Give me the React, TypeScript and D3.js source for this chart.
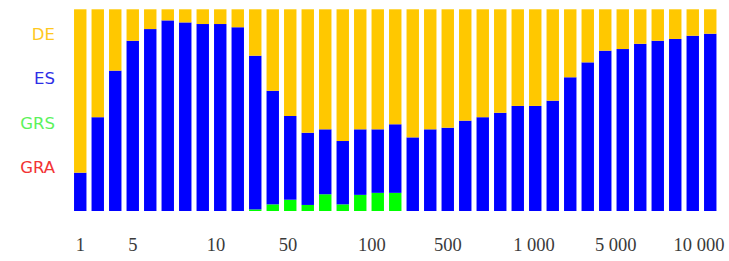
import React from "react";
import * as d3 from "d3";

const categories: string[] = [
  "b01","b02","b03","b04","b05","b06","b07","b08","b09","b10",
  "b11","b12","b13","b14","b15","b16","b17","b18","b19","b20",
  "b21","b22","b23","b24","b25","b26","b27","b28","b29","b30",
  "b31","b32","b33","b34","b35","b36","b37",
];

const GRA: number[] = [
  0,0,0,0,0,0,0,0,0,0, 0,0,0,0,0,0,0,0,0,0,
  0,0,0,0,0,0,0,0,0,0, 0,0,0,0,0,0,0,
];
const GRS: number[] = [
  0,0,0,0,0,0,0,0,0,0, 0.8,3.3,5.6,3.0,8.3,3.3,8.0,9.0,9.0,0,
  0,0,0,0,0,0,0,0,0,0, 0,0,0,0,0,0,0,
];
const ES: number[] = [
  19.0,46.5,69.6,84.4,90.2,94.5,93.5,92.7,92.7,91.1,
  76.2,56.3,41.5,35.8,32.2,31.4,32.5,31.5,34.0,36.5,
  40.5,41.3,44.8,46.5,48.7,52.1,52.1,54.7,66.3,73.7,
  79.5,80.3,82.9,84.4,85.3,86.9,87.9,
];
const DE: number[] = [
  81.0,53.5,30.4,15.6,9.8,5.5,6.5,7.3,7.3,8.9,
  23.0,40.4,52.9,61.2,59.5,65.3,59.5,59.5,57.0,63.5,
  59.5,58.7,55.2,53.5,51.3,47.9,47.9,45.3,33.7,26.3,
  20.5,19.7,17.1,15.6,14.7,13.1,12.1,
];

// tick labels and the (fractional) category index where each sits
const tickLabels: string[] = ["1","5","10","50","100","500","1 000","5 000","10 000"];
const tickIndex: number[] = [0, 3, 7.76, 11.87, 16.67, 21.0, 25.93, 30.6, 35.36];

const seriesKeys = ["GRA", "GRS", "ES", "DE"];
const legendKeys = ["DE", "ES", "GRS", "GRA"];

const fillColors: Record<string, string> = {
  GRA: "#FF0000",
  GRS: "#00FF00",
  ES: "#0000FF",
  DE: "#FFC800",
};
const legendColors: Record<string, string> = {
  DE: "#FFC81E",
  ES: "#2E2EE6",
  GRS: "#5CF25C",
  GRA: "#F23434",
};

export default function App() {
  const W = 729, H = 261;
  const rows = categories.map((c, i) => ({
    cat: c, GRA: GRA[i], GRS: GRS[i], ES: ES[i], DE: DE[i],
  }));
  const stacked = d3.stack<any>().keys(seriesKeys)(rows);

  const x = d3.scaleBand<string>()
    .domain(categories)
    .range([71.5, 719])
    .paddingInner(0.29)
    .paddingOuter(0.145);
  const y = d3.scaleLinear().domain([0, 100]).range([211, 9.3]);

  const c0 = (x(categories[0]) as number) + x.bandwidth() / 2;
  const cN = (x(categories[categories.length - 1]) as number) + x.bandwidth() / 2;
  const xt = d3.scaleLinear().domain([0, categories.length - 1]).range([c0, cN]);

  const ly = d3.scalePoint<string>().domain(legendKeys).range([34, 167]);

  return (
    <div style={{ position: "absolute", left: 0, top: 0 }}>
      <svg width={W} height={H} style={{ display: "block", background: "#fff" }}>
        <rect width={W} height={H} fill="#fff" />
        {stacked.map((s) => (
          <g key={s.key} fill={fillColors[s.key]}>
            {s.map((d, i) => {
              const h = y(d[0]) - y(d[1]);
              if (h <= 0) return null;
              return (
                <rect
                  key={i}
                  x={x(categories[i])}
                  y={y(d[1])}
                  width={x.bandwidth()}
                  height={h}
                />
              );
            })}
          </g>
        ))}
        {legendKeys.map((k) => (
          <text
            key={k}
            x={55}
            y={ly(k)}
            dy="0.36em"
            textAnchor="end"
            fill={legendColors[k]}
            style={{ fontFamily: "DejaVu Sans, Verdana, sans-serif", fontSize: 16.5 }}
          >
            {k}
          </text>
        ))}
        {tickLabels.map((t, i) => (
          <text
            key={t}
            x={xt(tickIndex[i])}
            y={250.5}
            textAnchor="middle"
            fill="#3a3a3a"
            style={{ fontFamily: "Liberation Serif, Times New Roman, serif", fontSize: 18.5 }}
          >
            {t}
          </text>
        ))}
      </svg>
    </div>
  );
}
